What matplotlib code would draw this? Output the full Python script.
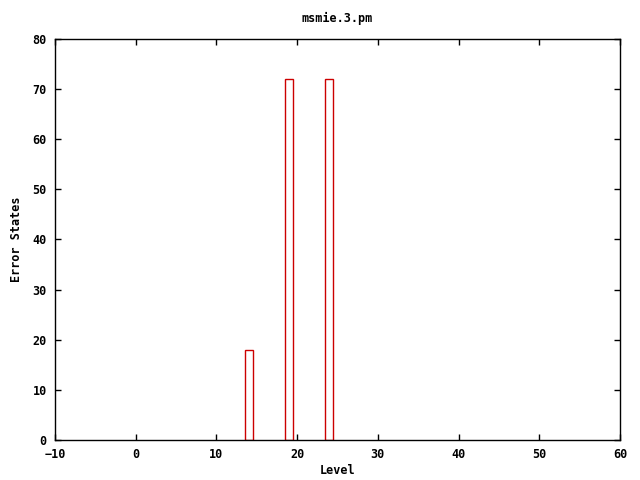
import matplotlib
matplotlib.use("Agg")
import matplotlib.pyplot as plt

levels = [14, 19, 24]
error_states = [18, 72, 72]
xticks = [-10, 0, 10, 20, 30, 40, 50, 60]
yticks = [0, 10, 20, 30, 40, 50, 60, 70, 80]

plt.rcParams['font.family'] = ['DejaVu Sans Mono']
plt.rcParams['font.weight'] = 'bold'
plt.rcParams['font.size'] = 8.5

fig = plt.figure(figsize=(6.4, 4.8), dpi=100)
ax = fig.add_axes([55/640, 1-440/480, (620-55)/640, (440-39)/480])
ax.bar(levels, error_states, width=1.0, facecolor='none', edgecolor='#cc0000', linewidth=1.0)
ax.set_xlim(-10, 60)
ax.set_ylim(0, 80)
ax.set_xticks(xticks)
ax.set_yticks(yticks)
ax.tick_params(direction='in', top=True, right=True, length=4, width=1, pad=6)
for s in ax.spines.values():
    s.set_linewidth(1)
ax.set_title('msmie.3.pm', fontsize=8.5, fontweight='bold', pad=12)
ax.set_xlabel('Level', fontweight='bold', labelpad=2)
ax.set_ylabel('Error States', fontweight='bold', labelpad=7)
fig.savefig('out.png', dpi=100)
